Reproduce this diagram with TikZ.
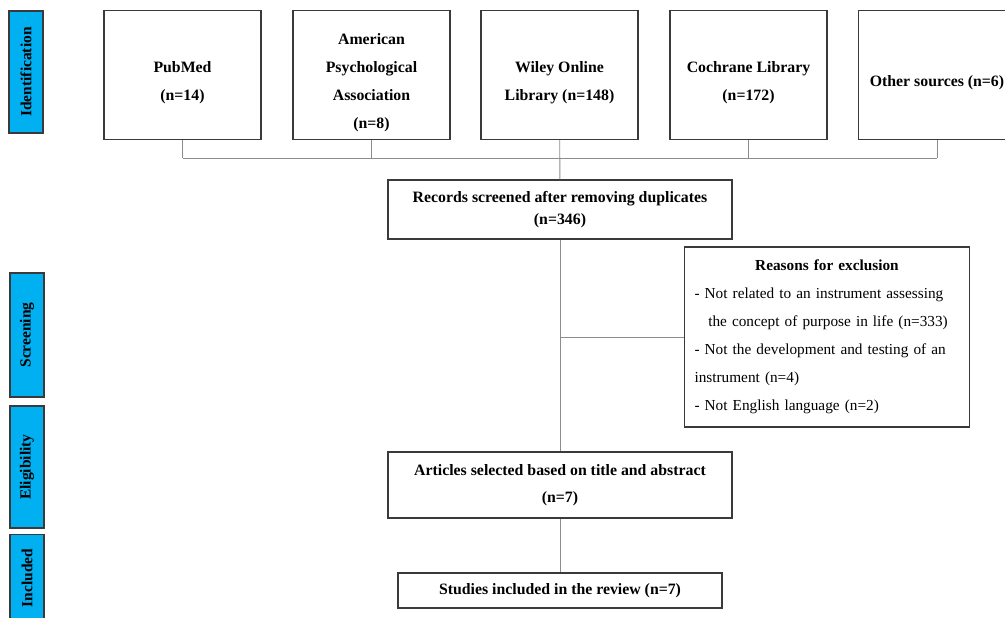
\documentclass[tikz,border=0pt]{standalone}
\usepackage{fontspec}
\setmainfont{Liberation Serif}
\definecolor{barblue}{HTML}{00B0F0}
\definecolor{boxline}{HTML}{3A3A3A}
\definecolor{linkgray}{HTML}{8C8C8C}
% source box text, set a little below the middle
\newcommand{\srclines}[1]{\raisebox{-0.12cm}[\height][\depth]{\begin{tabular}{@{}c@{}}#1\end{tabular}}}
\begin{document}
\begin{tikzpicture}[x=0.02cm, y=-0.02cm,
  srcbox/.style={draw=boxline, line width=0.7pt, align=center, minimum width=3.14cm, minimum height=2.58cm, inner sep=0pt, font=\fontsize{9}{15.9}\selectfont\bfseries},
  stagebox/.style={draw=boxline, line width=0.7pt, align=center, inner sep=0pt, font=\fontsize{9}{15.4}\selectfont\bfseries},
  phasebar/.style={draw=boxline, line width=0.8pt, fill=barblue, rotate=90, minimum height=0.68cm, inner sep=0pt, font=\fontsize{8.8}{10}\selectfont\bfseries},
  link/.style={draw=linkgray, line width=0.5pt}]
\useasboundingbox (0,0) rectangle (1005,618);
% phase bars
\node[phasebar, minimum width=2.44cm] (idbar) at (26,72){Identification};
\node[phasebar, minimum width=2.48cm] (scbar) at (27,335){Screening};
\node[phasebar, minimum width=2.44cm] (elbar) at (27,467){Eligibility};
\node[phasebar, minimum width=1.74cm] (inbar) at (27,578){Included};
% sources
\node[srcbox] (pubmed) at (182.5,75){\srclines{PubMed\\(n=14)}};
\node[srcbox] (apa) at (371.5,75){\srclines{American\\Psychological\\Association\\(n=8)}};
\node[srcbox] (wiley) at (559.5,75){\srclines{Wiley Online\\Library (n=148)}};
\node[srcbox] (cochrane) at (748.5,75){\srclines{Cochrane Library\\(n=172)}};
\node[srcbox] (other) at (937,75){\srclines{Other sources (n=6)}};
\coordinate (bus1) at (182.5,158);
\coordinate (bus2) at (371.5,158);
\coordinate (bus3) at (559.5,158);
\coordinate (bus4) at (748.5,158);
\coordinate (bus5) at (937,158);
\draw[link](pubmed) -- (bus1);
\draw[link](apa) -- (bus2);
\draw[link](cochrane) -- (bus4);
\draw[link](other) -- (bus5);
\draw[link](bus1) -- (bus5);
% screening
\node[stagebox, minimum width=6.88cm, minimum height=1.18cm, font=\fontsize{9}{12.5}\selectfont\bfseries] (records) at (560,209.5){Records screened after removing duplicates\\(n=346)};
\draw[link](wiley) -- (records);
\node[draw=boxline, line width=0.7pt, text width=5.3cm, inner sep=0.2cm, minimum height=3.6cm, align=left, font=\fontsize{8.7}{15.9}\selectfont] (excl) at (827,337){\makebox[\linewidth]{\bfseries Reasons for exclusion}\\
- Not related to an instrument assessing\\
\hspace*{0.9em}the concept of purpose in life (n=333)\\
- Not the development and testing of an\\
instrument (n=4)\\
- Not English language (n=2)};
% eligibility and included
\node[stagebox, minimum width=6.88cm, minimum height=1.32cm] (articles) at (560,485){Articles selected based on title and abstract\\(n=7)};
\node[stagebox, minimum width=6.48cm, minimum height=0.7cm] (studies) at (560,590.5){Studies included in the review (n=7)};
\coordinate (branch) at (560,337);
\draw[link](records) -- (articles);
\draw[link](branch) -- (excl);
\draw[link](articles) -- (studies);
\end{tikzpicture}
\end{document}
